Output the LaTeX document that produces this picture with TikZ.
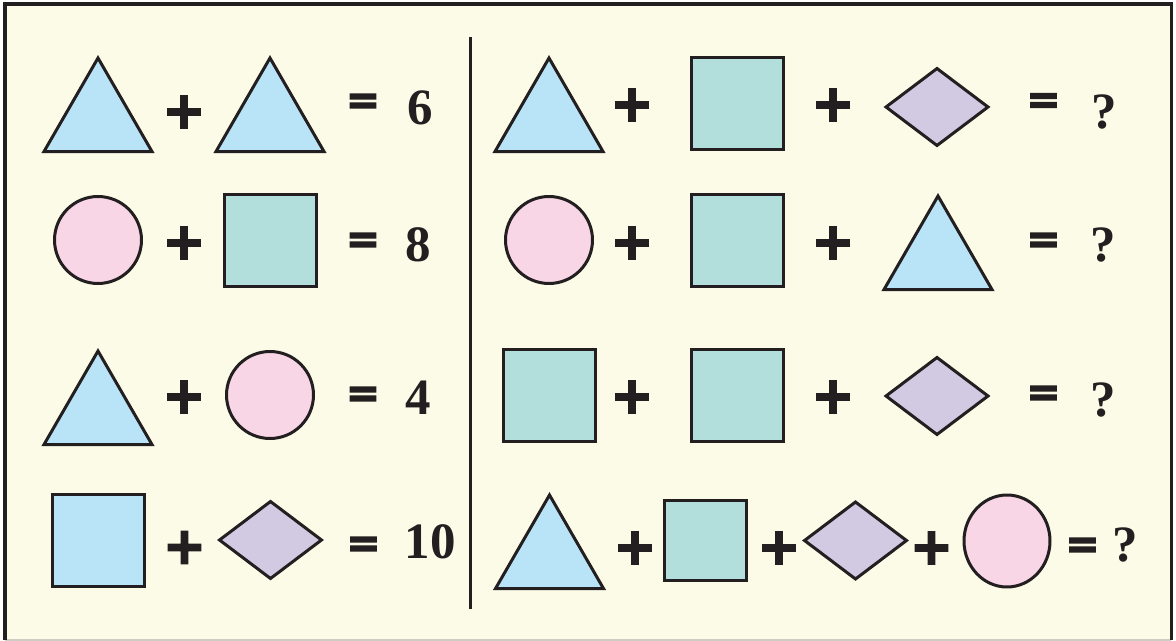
\documentclass[tikz,border=0pt]{standalone}
\usepackage{fontspec}
\usepackage{tikz}
\usetikzlibrary{shapes.geometric}
\newfontfamily\numfont{Liberation Serif}
\newfontfamily\opfont{DejaVu Sans Bold}[FakeBold=4]
\definecolor{PuzInk}{RGB}{35,31,32}
\definecolor{PuzPaper}{RGB}{252,251,232}
\definecolor{PuzEdge}{RGB}{205,205,195}
\definecolor{PuzBlue}{RGB}{185,228,248}
\definecolor{PuzTeal}{RGB}{178,223,219}
\definecolor{PuzPink}{RGB}{249,214,230}
\definecolor{PuzLilac}{RGB}{210,201,226}
\tikzset{
  figura/.style={draw=PuzInk, line width=0.06cm, inner sep=0pt, outer sep=0pt},
  tri/.style={figura, regular polygon, regular polygon sides=3, fill=PuzBlue, minimum size=2.5cm},
  quad/.style={figura, rectangle, fill=PuzTeal, minimum size=1.84cm},
  circ/.style={figura, circle, fill=PuzPink, minimum size=1.74cm},
  losango/.style={figura, diamond, fill=PuzLilac, minimum width=2.04cm, minimum height=1.54cm},
  mais/.style={font=\opfont\fontsize{29}{29}\selectfont, text=PuzInk, inner sep=0pt},
  igual/.style={font=\opfont\fontsize{23}{23}\selectfont, text=PuzInk, inner sep=0pt},
  valor/.style={font=\numfont\bfseries\fontsize{29}{30}\selectfont, text=PuzInk, inner sep=0pt},
}
\begin{document}
\begin{tikzpicture}[x=0.02cm, y=-0.02cm]
  \useasboundingbox (0,0) rectangle (1176,641);
  % moldura
  \fill[PuzPaper] (5,4) rectangle (1171,640);
  \draw[PuzEdge, line width=0.04cm] (5,639.5) -- (1171,639.5);
  \draw[PuzInk, line width=0.07cm] (5,640) -- (5,4) -- (1171.5,4) -- (1171.5,640);
  \coordinate (divtop) at (470,37);
  \coordinate (divbot) at (470,609);
  \draw[PuzInk, line width=0.06cm] (divtop) -- (divbot);

  % ------------------------------------------------------------------ esquerda
  \node[tri]  (a1) at (98,120.5) {};
  \node[mais] (a1p) at (184,112) {+};
  \node[tri]  (a2) at (270,120.5) {};
  \node[igual] (a1e) at (363,104) {=};
  \node[valor] (a1v) at (420,108) {6};

  \node[circ] (b1) at (98,240) {};
  \node[mais] (b1p) at (184,243) {+};
  \node[quad] (b2) at (270.5,240.5) {};
  \node[igual] (b1e) at (363,243) {=};
  \node[valor] (b1v) at (418,245) {8};

  \node[tri]  (c1) at (98,413.5) {};
  \node[mais] (c1p) at (184,397) {+};
  \node[circ] (c2) at (270,395) {};
  \node[igual] (c1e) at (363,397) {=};
  \node[valor] (c1v) at (418,398) {4};

  \node[quad, fill=PuzBlue] (d1) at (98.5,540.5) {};
  \node[mais] (d1p) at (184.5,547.5) {+};
  \node[losango] (d2) at (270.5,540) {};
  \node[igual] (d1e) at (363.5,547) {=};
  \node[valor] (d1v) at (430,541.5) {10};

  % ------------------------------------------------------------------ direita
  \node[tri]  (e1) at (549,120.5) {};
  \node[mais] (e1p) at (632,105) {+};
  \node[quad] (e2) at (737.5,103.5) {};
  \node[mais] (e2p) at (833,105) {+};
  \node[losango] (e3) at (937,107) {};
  \node[igual] (e1e) at (1043.5,103.5) {=};
  \node[valor] (e1v) at (1104,112) {?};

  \node[circ] (f1) at (549,240) {};
  \node[mais] (f1p) at (632,243) {+};
  \node[quad] (f2) at (737.5,240.5) {};
  \node[mais] (f2p) at (833,243) {+};
  \node[tri]  (f3) at (938,258.5) {};
  \node[igual] (f1e) at (1043.5,243) {=};
  \node[valor] (f1v) at (1103,245) {?};

  \node[quad] (g1) at (549.5,395.5) {};
  \node[mais] (g1p) at (632,397) {+};
  \node[quad] (g2) at (737.5,395.5) {};
  \node[mais] (g2p) at (833,397) {+};
  \node[losango] (g3) at (937,396) {};
  \node[igual] (g1e) at (1043.5,396) {=};
  \node[valor] (g1v) at (1103,400) {?};

  % ultima linha mais apertada
  \node[tri]  (h1) at (549.5,557.5) {};
  \node[mais] (h1p) at (635,548) {+};
  \node[quad, minimum width=1.64cm, minimum height=1.6cm] (h2) at (705.5,540.5) {};
  \node[mais] (h2p) at (779,548) {+};
  \node[losango] (h3) at (855.5,540.5) {};
  \node[mais] (h3p) at (931.5,548) {+};
  \node[circ, ellipse, minimum width=1.72cm, minimum height=1.84cm] (h4) at (1007,541) {};
  \node[igual] (h1e) at (1082.5,548) {=};
  \node[valor] (h1v) at (1125,545) {?};
\end{tikzpicture}
\end{document}
